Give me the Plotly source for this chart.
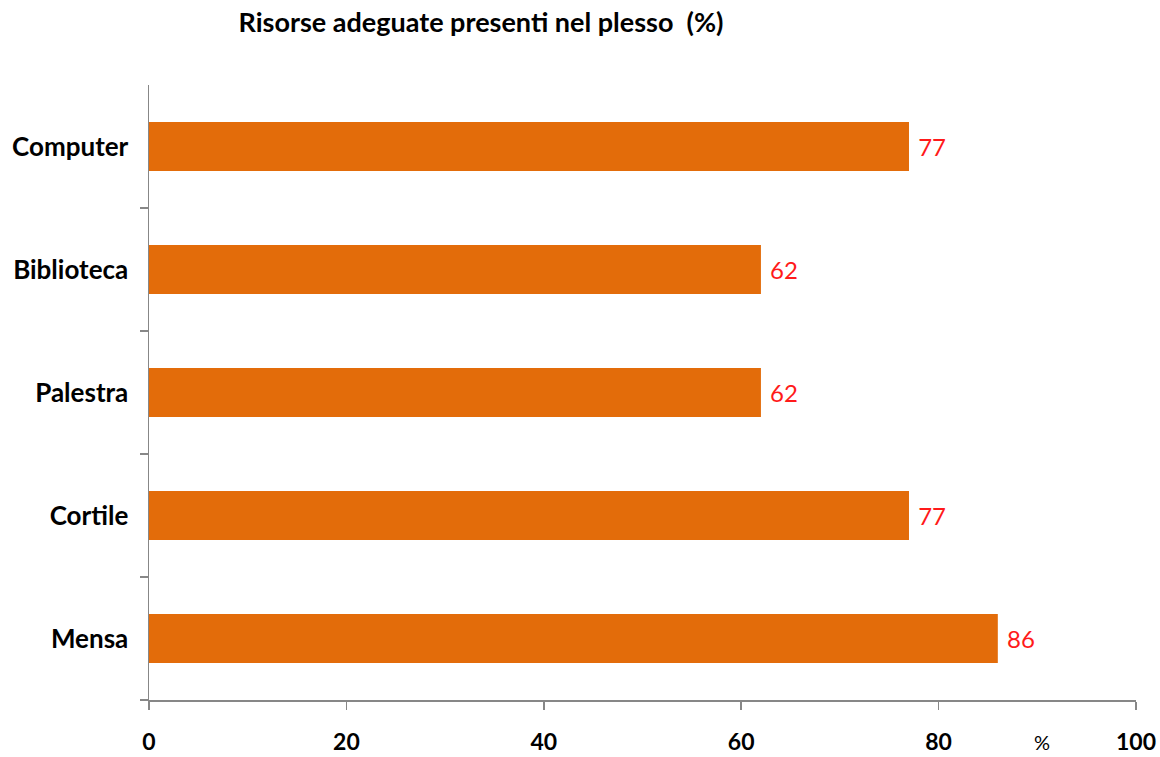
import plotly.graph_objects as go

categories = ["Computer", "Biblioteca", "Palestra", "Cortile", "Mensa"]
values = [77, 62, 62, 77, 86]
x_ticks = [0, 20, 40, 60, 80, 100]

bar_color = "#E36C0A"
label_color = "#FF1A1A"
axis_color = "#878787"
font_family = "Lato, 'Open Sans', sans-serif"

fig = go.Figure(
    go.Bar(
        x=values,
        y=categories,
        orientation="h",
        marker=dict(color=bar_color, line=dict(width=0)),
        text=["\u00a0" + str(v) for v in values],
        textposition="outside",
        textfont=dict(color=label_color, size=24, family=font_family),
        cliponaxis=False,
        hoverinfo="skip",
    )
)

fig.update_layout(
    width=1160,
    height=757,
    margin=dict(l=149, r=24, t=85, b=57),
    paper_bgcolor="white",
    plot_bgcolor="white",
    bargap=0.6,
    showlegend=False,
    font=dict(family=font_family, color="#000000"),
    title=dict(
        text="<b>Risorse adeguate presenti nel plesso  (%)</b>",
        x=481 / 1160,
        xanchor="center",
        xref="container",
        y=1 - 23 / 757,
        yanchor="middle",
        yref="container",
        font=dict(size=27, family=font_family, color="#000000"),
    ),
    xaxis=dict(
        range=[0, 100],
        tickvals=x_ticks,
        ticktext=[f"<b>{t}</b>" for t in x_ticks],
        showgrid=False,
        zeroline=False,
        showline=True,
        linecolor=axis_color,
        linewidth=1.5,
        ticks="outside",
        ticklen=8,
        tickwidth=1.5,
        tickcolor=axis_color,
        tickfont=dict(size=23, family=font_family, color="#000000"),
        ticklabelstandoff=13,
        automargin=False,
        fixedrange=True,
    ),
    yaxis=dict(
        categoryorder="array",
        categoryarray=categories[::-1],
        tickvals=categories,
        ticktext=[f"<b>{c}</b>" for c in categories],
        tickson="boundaries",
        showgrid=False,
        zeroline=False,
        showline=True,
        linecolor=axis_color,
        linewidth=1.5,
        ticks="outside",
        ticklen=8,
        tickwidth=1.5,
        tickcolor=axis_color,
        tickfont=dict(size=26, family=font_family, color="#000000"),
        ticklabelstandoff=14,
        automargin=False,
        fixedrange=True,
    ),
    annotations=[
        dict(
            text="%",
            x=90.5,
            xref="x",
            y=-42 / 615,
            yref="paper",
            xanchor="center",
            yanchor="middle",
            showarrow=False,
            font=dict(size=20, family=font_family, color="#000000"),
        )
    ],
)

fig.write_html(
    "out.html",
    config={"displayModeBar": False, "staticPlot": True},
    post_script="document.body.style.margin='0px';document.body.style.overflow='hidden';",
)
